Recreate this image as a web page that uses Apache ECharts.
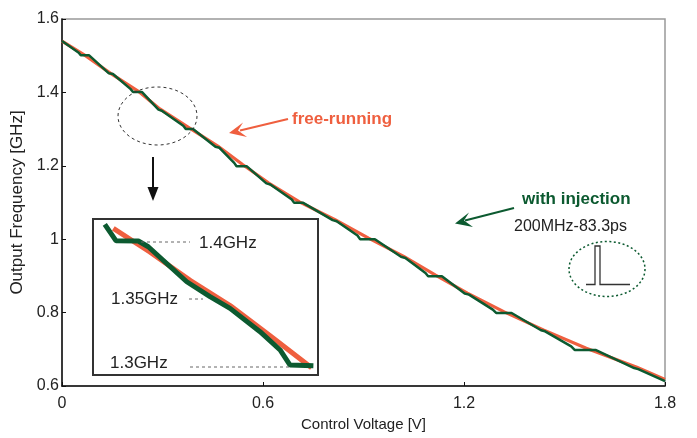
<!DOCTYPE html>
<html><head><meta charset="utf-8">
<script src="https://cdn.jsdelivr.net/npm/echarts@6/dist/echarts.min.js"></script>
<style>html,body{margin:0;padding:0;background:#fff}#c{width:697px;height:438px}</style>
</head><body><div id="c"></div>
<script>
// ---- data ----
const xTicks = [0, 0.6, 1.2, 1.8];
const yTicks = [0.6, 0.8, 1, 1.2, 1.4, 1.6];

// free-running curve
const freeV = [0, 0.07, 0.145, 0.228, 0.292, 0.382, 0.465, 0.54, 0.617, 0.71, 0.815, 0.915, 1.02, 1.115, 1.21, 1.32, 1.437, 1.565, 1.716, 1.8];
const freeF = [1.54, 1.5, 1.452, 1.403, 1.355, 1.302, 1.254, 1.203, 1.153, 1.101, 1.053, 1.003, 0.953, 0.902, 0.853, 0.802, 0.753, 0.703, 0.651, 0.618];

// with injection (locked steps)
const injV = [0, 0.05, 0.056, 0.081, 0.14, 0.152, 0.205, 0.212, 0.239, 0.288, 0.298, 0.362, 0.37, 0.391, 0.458, 0.47, 0.514, 0.521, 0.551, 0.61, 0.622, 0.686, 0.693, 0.72, 0.808, 0.82, 0.882, 0.89, 0.934, 1.012, 1.025, 1.085, 1.093, 1.134, 1.202, 1.215, 1.286, 1.296, 1.342, 1.43, 1.442, 1.52, 1.531, 1.594, 1.708, 1.72, 1.8];
const injF = [1.54, 1.508, 1.501, 1.501, 1.452, 1.450, 1.409, 1.401, 1.401, 1.353, 1.350, 1.309, 1.300, 1.300, 1.252, 1.249, 1.208, 1.199, 1.199, 1.152, 1.149, 1.108, 1.099, 1.099, 1.052, 1.049, 1.01, 1.0, 1.0, 0.952, 0.949, 0.908, 0.899, 0.899, 0.852, 0.849, 0.808, 0.799, 0.799, 0.752, 0.749, 0.708, 0.698, 0.698, 0.649, 0.646, 0.613];

// inset (zoomed view around 1.3 - 1.4 GHz)
const insetFreeV = [0.209, 0.243, 0.281, 0.318, 0.355, 0.394];
const insetFreeF = [1.411, 1.392, 1.369, 1.349, 1.325, 1.299];
const insetInjV = [0.201, 0.2115, 0.2323, 0.2416, 0.2775, 0.2992, 0.3179, 0.3459, 0.3646, 0.3739, 0.3957];
const insetInjF = [1.4142, 1.401, 1.4008, 1.3962, 1.3681, 1.3561, 1.3467, 1.328, 1.3133, 1.3012, 1.3006];
const insetLabels = ['1.4GHz', '1.35GHz', '1.3GHz'];

const zip = (a, b) => a.map((v, i) => [v, b[i]]);
const FONT = 'Liberation Sans, Arial, Helvetica, sans-serif';
const ORANGE = '#ef5f3f';
const GREEN = '#0c5a30';

const chart = echarts.init(document.getElementById('c'), null, {renderer: 'canvas'});
chart.setOption({
  backgroundColor: '#fff',
  animation: false,
  textStyle: {fontFamily: FONT},
  grid: [
    {left: 62, right: 32, top: 19, bottom: 52, show: true, borderColor: '#999', borderWidth: 1.5, z: 0},
    {left: 93, top: 219, width: 225, height: 156, show: true, borderColor: '#333', borderWidth: 2, backgroundColor: '#fff', z: 5}
  ],
  xAxis: [
    {gridIndex: 0, type: 'value', min: 0, max: 1.8, interval: 0.6,
     name: 'Control Voltage [V]', nameLocation: 'middle', nameGap: 25,
     nameTextStyle: {fontSize: 15, color: '#222', fontFamily: FONT},
     axisLine: {show: true, lineStyle: {color: '#111', width: 1.5}},
     axisTick: {show: true, inside: true, length: 4, lineStyle: {color: '#111'}},
     axisLabel: {fontSize: 16, color: '#222', margin: 10, fontFamily: FONT,
       formatter: v => xTicks.includes(+v.toFixed(2)) ? String(+v.toFixed(2)) : ''},
     splitLine: {show: false}},
    {gridIndex: 1, type: 'value', min: 0.19, max: 0.40, show: false, splitLine: {show: false}}
  ],
  yAxis: [
    {gridIndex: 0, type: 'value', min: 0.6, max: 1.6, interval: 0.2,
     name: 'Output Frequency [GHz]', nameLocation: 'middle', nameGap: 32,
     nameTextStyle: {fontSize: 17, color: '#222', fontFamily: FONT},
     axisLine: {show: true, lineStyle: {color: '#111', width: 1.5}},
     axisTick: {show: true, inside: true, length: 4, lineStyle: {color: '#111'}},
     axisLabel: {fontSize: 16, color: '#222', margin: 3, fontFamily: FONT,
       formatter: v => yTicks.includes(+v.toFixed(2)) ? String(+v.toFixed(2)) : ''},
     splitLine: {show: false}},
    {gridIndex: 1, type: 'value', min: 1.2932, max: 1.4185, show: false, splitLine: {show: false}}
  ],
  series: [
    {type: 'line', name: 'free-running', xAxisIndex: 0, yAxisIndex: 0, data: zip(freeV, freeF),
     symbol: 'none', lineStyle: {color: ORANGE, width: 3.2}, z: 2},
    {type: 'line', name: 'with injection', xAxisIndex: 0, yAxisIndex: 0, data: zip(injV, injF),
     symbol: 'none', lineStyle: {color: GREEN, width: 2.5}, z: 3},
    {type: 'line', name: 'free-running (inset)', xAxisIndex: 1, yAxisIndex: 1, data: zip(insetFreeV, insetFreeF),
     symbol: 'none', lineStyle: {color: ORANGE, width: 5}, z: 6},
    {type: 'line', name: 'with injection (inset)', xAxisIndex: 1, yAxisIndex: 1, data: zip(insetInjV, insetInjF),
     symbol: 'none', lineStyle: {color: GREEN, width: 5}, z: 7}
  ],
  graphic: [
    // dashed ellipse around the zoomed region
    {type: 'ellipse', shape: {cx: 157.5, cy: 116, rx: 39.5, ry: 29},
     style: {fill: null, stroke: '#333', lineWidth: 1, lineDash: [3, 3]}, z: 10},
    // black arrow down
    {type: 'line', shape: {x1: 153, y1: 157, x2: 153, y2: 190}, style: {stroke: '#111', lineWidth: 2}, z: 10},
    {type: 'polygon', shape: {points: [[147.5, 187], [158.5, 187], [153, 201]]}, style: {fill: '#111'}, z: 10},
    // free-running label + arrow
    {type: 'line', shape: {x1: 288, y1: 119, x2: 240, y2: 130.5}, style: {stroke: ORANGE, lineWidth: 2}, z: 10},
    {type: 'polygon', shape: {points: [[229, 133], [243, 122.5], [238, 130.5], [247, 137]]}, style: {fill: ORANGE}, z: 10},
    {type: 'text', style: {text: 'free-running', x: 292, y: 119, font: 'bold 17px ' + FONT, fill: ORANGE, textVerticalAlign: 'middle', verticalAlign: 'middle'}, z: 10},
    // with injection label + arrow
    {type: 'line', shape: {x1: 514, y1: 208, x2: 465, y2: 220.5}, style: {stroke: GREEN, lineWidth: 2}, z: 10},
    {type: 'polygon', shape: {points: [[455, 223.5], [469, 212.5], [464, 220.5], [473, 227]]}, style: {fill: GREEN}, z: 10},
    {type: 'text', style: {text: 'with injection', x: 522, y: 199, font: 'bold 17px ' + FONT, fill: GREEN, textVerticalAlign: 'middle', verticalAlign: 'middle'}, z: 10},
    {type: 'text', style: {text: '200MHz-83.3ps', x: 514, y: 227, font: '16px ' + FONT, fill: '#222', textVerticalAlign: 'middle', verticalAlign: 'middle'}, z: 10},
    // dotted ellipse with pulse
    {type: 'ellipse', shape: {cx: 607, cy: 269, rx: 38, ry: 27.5},
     style: {fill: null, stroke: GREEN, lineWidth: 1.5, lineDash: [2, 2.5]}, z: 10},
    {type: 'polyline', shape: {points: [[586, 284.5], [595, 284.5], [595, 246], [600, 246], [600, 284.5], [630, 284.5]]},
     style: {fill: null, stroke: '#333', lineWidth: 1.3}, z: 10},
    // inset labels and dashed guides
    {type: 'line', shape: {x1: 141, y1: 242, x2: 190, y2: 242}, style: {stroke: '#666', lineWidth: 1, lineDash: [3, 3]}, z: 8},
    {type: 'text', style: {text: insetLabels[0], x: 199, y: 243, font: '17px ' + FONT, fill: '#222', textVerticalAlign: 'middle', verticalAlign: 'middle'}, z: 8},
    {type: 'line', shape: {x1: 189, y1: 299, x2: 203, y2: 299}, style: {stroke: '#666', lineWidth: 1, lineDash: [3, 3]}, z: 8},
    {type: 'text', style: {text: insetLabels[1], x: 111, y: 299, font: '17px ' + FONT, fill: '#222', textVerticalAlign: 'middle', verticalAlign: 'middle'}, z: 8},
    {type: 'line', shape: {x1: 190, y1: 367, x2: 290, y2: 367}, style: {stroke: '#666', lineWidth: 1, lineDash: [3, 3]}, z: 8},
    {type: 'text', style: {text: insetLabels[2], x: 110, y: 363, font: '17px ' + FONT, fill: '#222', textVerticalAlign: 'middle', verticalAlign: 'middle'}, z: 8}
  ]
});
</script>
</body></html>
